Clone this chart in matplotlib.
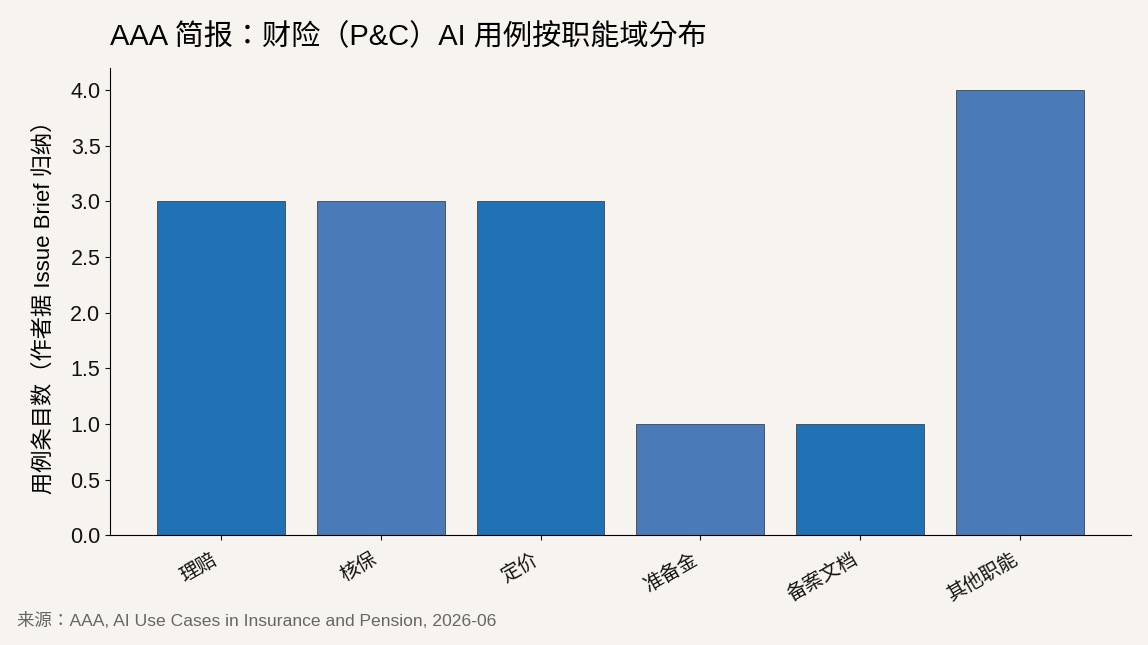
import matplotlib.pyplot as plt

plt.rcParams['font.family'] = ['Liberation Sans', 'Noto Sans CJK TC', 'DejaVu Sans']

categories = ['理赔', '核保', '定价', '准备金', '备案文档', '其他职能']
counts = [3, 3, 3, 1, 1, 4]
colors = ['#2171b5', '#4a7ab7', '#2171b5', '#4a7ab7', '#2171b5', '#4a7ab7']

BG = '#f7f4ef'

fig, ax = plt.subplots(figsize=(11.48, 6.45), dpi=100)
fig.patch.set_facecolor(BG)
ax.set_facecolor(BG)

ax.bar(categories, counts, width=0.8, color=colors, edgecolor='#444444', linewidth=0.6)

ax.set_ylim(0, 4.2)
ax.set_yticks([0, 0.5, 1.0, 1.5, 2.0, 2.5, 3.0, 3.5, 4.0])
ax.set_yticklabels([f'{v:.1f}' for v in ax.get_yticks()])
ax.tick_params(axis='both', colors='#111111')
ax.tick_params(axis='y', labelsize=15.5)
ax.tick_params(axis='x', labelsize=14, pad=7)
plt.setp(ax.get_xticklabels(), rotation=30, ha='right')

ax.set_ylabel('用例条目数（作者据 Issue Brief 归纳）', fontsize=16, labelpad=11)
ax.set_title('AAA 简报：财险（P&C）AI 用例按职能域分布', fontsize=21, loc='left', pad=16)

for s in ['top', 'right']:
    ax.spines[s].set_visible(False)

fig.text(0.015, 0.03, '来源：AAA, AI Use Cases in Insurance and Pension, 2026-06',
         fontsize=12.6, color='#666666')

plt.subplots_adjust(left=0.096, right=0.985, top=0.895, bottom=0.17)
plt.savefig('out.png', facecolor=BG)
